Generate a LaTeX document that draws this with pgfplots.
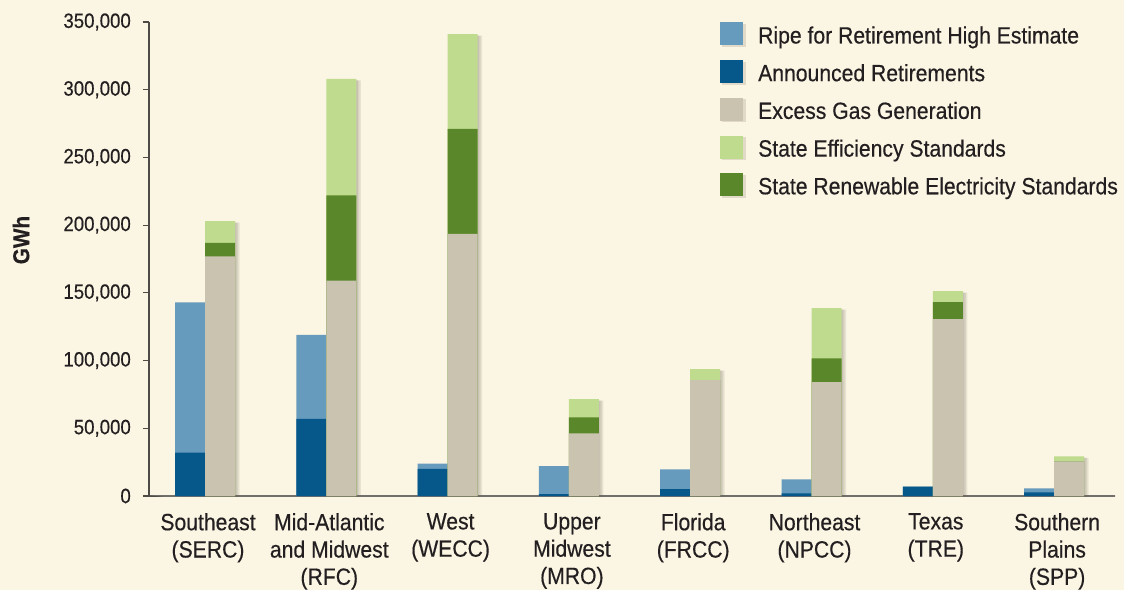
\documentclass[border=0pt]{standalone}
\usepackage{fontspec}
\setmainfont{Liberation Sans}[FakeStretch=0.9, FakeBold=0.4]
\usepackage{pgfplots}
\pgfplotsset{compat=1.18}
\usepackage{pgfplotstable}

\definecolor{bgcol}{HTML}{FBF5E3}
\definecolor{ripe}{HTML}{669BBD}
\definecolor{announced}{HTML}{06578A}
\definecolor{gas}{HTML}{C9C3B0}
\definecolor{eff}{HTML}{BEDB8E}
\definecolor{renew}{HTML}{5A8729}
\definecolor{txt}{HTML}{231F20}
\definecolor{axiscol}{HTML}{4E4B46}
\definecolor{shadowcol}{HTML}{6B6455}

% Cumulative bar tops in GWh for each region.
% ripe     : ripe for retirement (high estimate), incl. announced
% announced: announced retirements
% gas      : excess gas generation
% gasren   : gas + state renewable electricity standards
% total    : gas + renewables + state efficiency standards
\pgfplotstableread{
x ripe   announced gas    gasren total
0 143000 32000     177000 187000 203000
1 119000 57000     159000 222000 308000
2 24000  20000     193500 271000 341000
3 22000  1300      46300  58000  71500
4 19700  5000      85500  85500  93600
5 12300  2000      84000  101700 138700
6 7000   7000      130600 143100 151300
7 5700   2700      25600  25600  29300
}\regions

\pgfplotsset{
  regionbar/.style={ybar, bar width=0.2473, draw=none, forget plot},
  leftbar/.style={regionbar, bar shift=-0.1237},
  rightbar/.style={regionbar, bar shift=0.1237},
  barshadow/.style={fill=shadowcol, opacity=0.13, yshift=-1.5pt},
}

\begin{document}
\begin{tikzpicture}[x=1pt,y=1pt]
\useasboundingbox (0,0) rectangle (1124,590);
\fill[bgcol] (0,0) rectangle (1124,590);
\begin{axis}[
  at={(149pt,94pt)}, anchor=south west,
  scale only axis, width=966pt, height=474pt,
  xmin=-0.4617, xmax=7.502, ymin=0, ymax=350000,
  axis x line*=bottom, axis y line*=left,
  x axis line style={-, draw=axiscol!80, line width=1.5pt},
  y axis line style={-, draw=axiscol, line width=1.3pt},
  xtick={0,...,7},
  xticklabels={{Southeast\\(SERC)},{Mid-Atlantic\\and Midwest\\(RFC)},{West\\(WECC)},{Upper\\Midwest\\(MRO)},{Florida\\(FRCC)},{Northeast\\(NPCC)},{Texas\\(TRE)},{Southern\\Plains\\(SPP)}},
  xtick style={draw=none},
  ytick={0,50000,100000,150000,200000,250000,300000,350000},
  yticklabels={0,{50,000},{100,000},{150,000},{200,000},{250,000},{300,000},{350,000}},
  tick align=outside, major tick length=6pt,
  ytick style={draw=axiscol, line width=1.2pt},
  scaled y ticks=false,
  yticklabel style={font=\fontsize{20.7}{24}\selectfont, text=txt, anchor=east, inner sep=0pt, xshift=-12pt},
  xticklabel style={font=\fontsize{23.5}{27.3}\selectfont, text=txt, align=center, anchor=north, inner sep=0pt, yshift=-11pt, xshift=3pt},
  ylabel={\bfseries GWh},
  ylabel style={font=\fontsize{23}{26}\selectfont, text=txt, at={(axis description cs:-0.1325,0.540)}, anchor=center},
  legend style={at={(axis description cs:0.5911,0.9994)}, anchor=north west, draw=none, fill=none, inner sep=0pt, row sep=13.2pt,
    font=\fontsize{23.5}{27.5}\selectfont, text=txt,
    nodes={inner sep=0pt, text height=21pt, text depth=2pt}},
  legend cell align=left,
  legend image code/.code={
    \fill[shadowcol, opacity=0.18] (1.5pt,-13pt) rectangle (25.5pt,10pt);
    \path[#1] (0pt,-11.5pt) rectangle (23pt,11.5pt);
    \path (38pt,0pt);
  },
]
% soft drop shadows behind the bars
\pgfplotsinvokeforeach{1.5,3,4.5}{
  \addplot[leftbar, barshadow, xshift=#1pt] table[x=x, y=ripe] {\regions};
  \addplot[rightbar, barshadow, xshift=#1pt] table[x=x, y=total] {\regions};
}
% retirements (left bar of each region)
\addplot[leftbar, fill=ripe] table[x=x, y=ripe] {\regions};
\addplot[leftbar, fill=announced] table[x=x, y=announced] {\regions};
% replacement sources (right bar of each region)
\addplot[rightbar, fill=eff] table[x=x, y=total] {\regions};
\addplot[rightbar, fill=renew] table[x=x, y=gasren] {\regions};
\addplot[rightbar, fill=gas] table[x=x, y=gas] {\regions};

\addlegendimage{fill=ripe, draw=none}
\addlegendentry{Ripe for Retirement High Estimate}
\addlegendimage{fill=announced, draw=none}
\addlegendentry{Announced Retirements}
\addlegendimage{fill=gas, draw=none}
\addlegendentry{Excess Gas Generation}
\addlegendimage{fill=eff, draw=none}
\addlegendentry{State Efficiency Standards}
\addlegendimage{fill=renew, draw=none}
\addlegendentry{State Renewable Electricity Standards}

% axis line ends
\draw[axiscol, line width=1.3pt] (axis cs:-0.4617,0) -- ++(0,-6pt);
\draw[axiscol!80, line width=1.3pt] (axis cs:7.502,0) -- ++(0,-9pt);
\end{axis}
\end{tikzpicture}
\end{document}
